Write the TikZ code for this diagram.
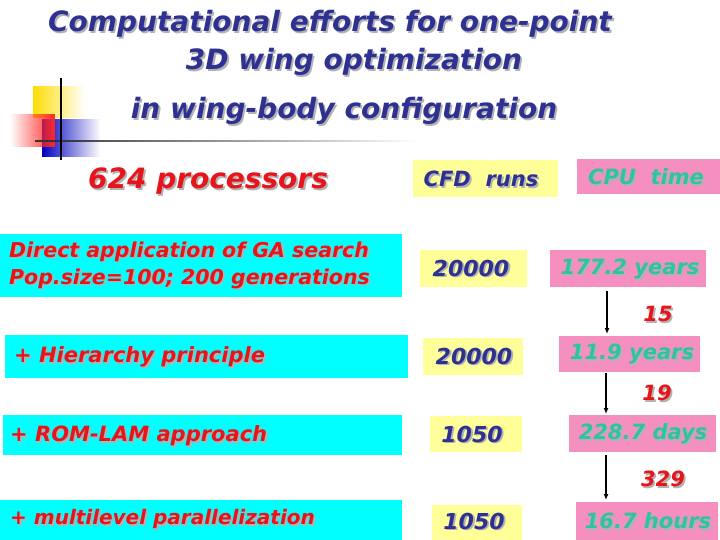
\documentclass[tikz,border=0pt]{standalone}
\usepackage{fontspec}
\setmainfont{DejaVu Sans}
\usetikzlibrary{fadings,arrows.meta}
\definecolor{ttl}{HTML}{2E3192}
\definecolor{rd}{HTML}{E8141B}
\definecolor{tl}{HTML}{2EC4A0}
\definecolor{cy}{HTML}{00FFFF}
\definecolor{yl}{HTML}{FFFF99}
\definecolor{pk}{HTML}{F58FC0}
\newcommand\shd[2]{\makebox[0pt][l]{\hspace{1.8pt}\raisebox{-1.8pt}{\textcolor{black!30}{#2}}}\textcolor{#1}{#2}}
\tikzset{
 txt/.style={inner sep=0pt,font=\bfseries\itshape},
 cbox/.style={fill=cy,draw=none},
 ybox/.style={fill=yl,draw=none},
 pbox/.style={fill=pk,draw=none},
 arr/.style={-{Latex[length=6pt,width=5pt]},line width=1.3pt,black}
}
\begin{document}
\begin{tikzpicture}[x=1pt,y=-1pt]
\useasboundingbox (0,0) rectangle (720,540);
% logo
\fill[yellow!80!orange,path fading=east] (33,86) rectangle (85,118);
\fill[blue!75!black,path fading=east] (42,119) rectangle (100,157);
\fill[red!85,path fading=west] (10,114) rectangle (55,147);
\fill[black!80,path fading=east] (35,140.5) rectangle (420,142.5);
\draw[line width=2pt] (61,78) -- (61,160);
% title
\node[txt,font=\fontsize{28}{30}\selectfont\bfseries\itshape] (t1) at (330,25) {\shd{ttl}{Computational efforts for one-point}};
\node[txt,font=\fontsize{28}{30}\selectfont\bfseries\itshape] (t2) at (354,63) {\shd{ttl}{3D wing optimization}};
\node[txt,font=\fontsize{28}{30}\selectfont\bfseries\itshape] (t3) at (344,112) {\shd{ttl}{in wing-body configuration}};
\node[txt,font=\fontsize{28}{30}\selectfont\bfseries\itshape] (proc) at (208,182) {\shd{rd}{624 processors}};
% header boxes
\fill[ybox] (413,160) rectangle (558,197);
\node[txt,font=\fontsize{21}{24}\selectfont\bfseries\itshape] (cfd) at (481,180) {\shd{ttl}{CFD~ runs}};
\fill[pbox] (577,159) rectangle (720,194);
\node[txt,font=\fontsize{21}{24}\selectfont\bfseries\itshape] (cpu) at (646,178) {\shd{tl}{CPU~ time}};
% rows
\fill[cbox] (0,234) rectangle (402,297);
\node[txt,font=\fontsize{20.5}{24}\selectfont\bfseries\itshape,align=left,anchor=west] (r1) at (9,266) {\shd{rd}{Direct application of GA search}\\[3pt]\shd{rd}{Pop.size=100; 200 generations}};
\fill[cbox] (5,335) rectangle (408,378);
\node[txt,font=\fontsize{21}{24}\selectfont\bfseries\itshape,anchor=west] (r2) at (14,358) {\shd{rd}{+ Hierarchy principle}};
\fill[cbox] (3,415) rectangle (402,455);
\node[txt,font=\fontsize{21}{24}\selectfont\bfseries\itshape,anchor=west] (r3) at (10,437) {\shd{rd}{+ ROM-LAM approach}};
\fill[cbox] (0,500) rectangle (402,540);
\node[txt,font=\fontsize{20}{24}\selectfont\bfseries\itshape,anchor=west] (r4) at (10,520) {\shd{rd}{+ multilevel parallelization}};
% CFD numbers
\fill[ybox] (420,250) rectangle (527,287);
\node[txt,font=\fontsize{22}{24}\selectfont\bfseries\itshape] (c1) at (471,269) {\shd{ttl}{20000}};
\fill[ybox] (423,338) rectangle (523,375);
\node[txt,font=\fontsize{22}{24}\selectfont\bfseries\itshape] (c2) at (474,357) {\shd{ttl}{20000}};
\fill[ybox] (430,416) rectangle (522,452);
\node[txt,font=\fontsize{22}{24}\selectfont\bfseries\itshape] (c3) at (472,435) {\shd{ttl}{1050}};
\fill[ybox] (432,505) rectangle (522,540);
\node[txt,font=\fontsize{22}{24}\selectfont\bfseries\itshape] (c4) at (474,522) {\shd{ttl}{1050}};
% CPU
\fill[pbox] (550,250) rectangle (706,287);
\node[txt,font=\fontsize{21}{24}\selectfont\bfseries\itshape] (p1) at (630,270) {\shd{tl}{177.2 years}};
\fill[pbox] (559,336) rectangle (700,372);
\node[txt,font=\fontsize{21}{24}\selectfont\bfseries\itshape] (p2) at (632,355) {\shd{tl}{11.9 years}};
\fill[pbox] (569,415) rectangle (716,452);
\node[txt,font=\fontsize{21}{24}\selectfont\bfseries\itshape] (p3) at (643,435) {\shd{tl}{228.7 days}};
\fill[pbox] (576,502) rectangle (718,540);
\node[txt,font=\fontsize{21}{24}\selectfont\bfseries\itshape] (p4) at (648,522) {\shd{tl}{16.7 hours}};
% arrows
\coordinate (a1) at (607,291); \coordinate (b1) at (607,334);
\coordinate (a2) at (606,373); \coordinate (b2) at (606,414);
\coordinate (a3) at (606,455); \coordinate (b3) at (606,500);
\draw[arr] (a1) -- (b1);
\draw[arr] (a2) -- (b2);
\draw[arr] (a3) -- (b3);
\node[txt,font=\fontsize{21}{24}\selectfont\bfseries\itshape] (f1) at (658,315) {\shd{rd}{15}};
\node[txt,font=\fontsize{21}{24}\selectfont\bfseries\itshape] (f2) at (657,394) {\shd{rd}{19}};
\node[txt,font=\fontsize{21}{24}\selectfont\bfseries\itshape] (f3) at (663,480) {\shd{rd}{329}};
\end{tikzpicture}
\end{document}
